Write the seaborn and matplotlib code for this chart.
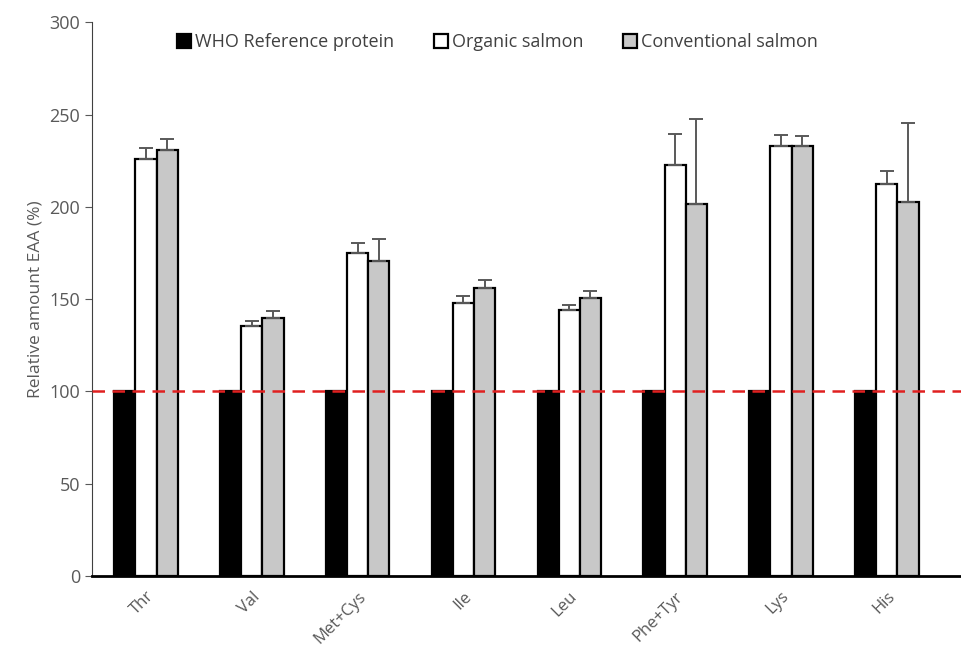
import pandas as pd
import numpy as np
import matplotlib.pyplot as plt
import seaborn as sns

# Data
amino_acids = ['Thr', 'Val', 'Met+Cys', 'Ile', 'Leu', 'Phe+Tyr', 'Lys', 'His']
who_ref = [100, 100, 100, 100, 100, 100, 100, 100]
organic = [225.8, 135.4, 174.9, 147.8, 144.0, 222.7, 233.0, 212.4]
organic_err = [5.9, 2.8, 5.4, 3.8, 2.7, 17.0, 5.8, 6.9]
conventional = [230.7, 139.7, 170.5, 155.9, 150.5, 201.8, 233.0, 202.7]
conventional_err = [5.9, 3.8, 12.0, 4.4, 3.8, 46.0, 5.2, 42.9]
series = ['WHO Reference protein', 'Organic salmon', 'Conventional salmon']

df = pd.DataFrame({
    'aa': amino_acids * 3,
    'value': who_ref + organic + conventional,
    'err': [0] * 8 + organic_err + conventional_err,
    'series': [s for s in series for _ in amino_acids],
})

plt.rcParams['font.family'] = ['Open Sans', 'DejaVu Sans']
fig = plt.figure(figsize=(9.62, 6.49), dpi=100)
ax = fig.add_axes([0.0956, 0.1125, 0.9044, 0.853])

palette = {'WHO Reference protein': 'black', 'Organic salmon': 'white',
           'Conventional salmon': '#c8c8c8'}
sns.barplot(data=df, x='aa', y='value', hue='series', hue_order=series,
            order=amino_acids, palette=palette, width=0.6, edgecolor='black',
            linewidth=1.6, errorbar=None, ax=ax, saturation=1)

# upward-only error bars from bar positions
for cont, s in zip(ax.containers, series):
    errs = df[df['series'] == s]['err'].values
    if errs.sum() == 0:
        continue
    xs = [p.get_x() + p.get_width() / 2 for p in cont.patches]
    hs = [p.get_height() for p in cont.patches]
    ax.errorbar(xs, hs, yerr=[np.zeros(len(errs)), errs], fmt='none',
                ecolor='#595959', elinewidth=1.4, capsize=5, capthick=1.4, zorder=1)

ax.axhline(100, color='#e02020', ls=(0, (5, 3)), lw=1.8, zorder=5)

ax.set_ylim(0, 300)
ax.set_xlim(-0.51, 7.71)
ax.set_yticks(range(0, 301, 50))
ax.set_xlabel('')
ax.set_ylabel('Relative amount EAA (%)', color='#595959', fontsize=12.5)
ax.tick_params(axis='y', colors='#595959', labelsize=13, length=5)
ax.tick_params(axis='x', colors='#595959', labelsize=12, length=0, pad=9)
plt.setp(ax.get_xticklabels(), rotation=45, ha='right', rotation_mode='anchor')
for sp in ['top', 'right']:
    ax.spines[sp].set_visible(False)
ax.spines['left'].set_color('#404040')
ax.spines['bottom'].set_linewidth(2)

ax.legend(loc='upper center', bbox_to_anchor=(0.466, 1.01), ncol=3, frameon=False,
          fontsize=13, handlelength=0.8, handleheight=0.8, handletextpad=0.2,
          columnspacing=2.2, labelcolor='#404040')

plt.savefig('out.png', dpi=100)
